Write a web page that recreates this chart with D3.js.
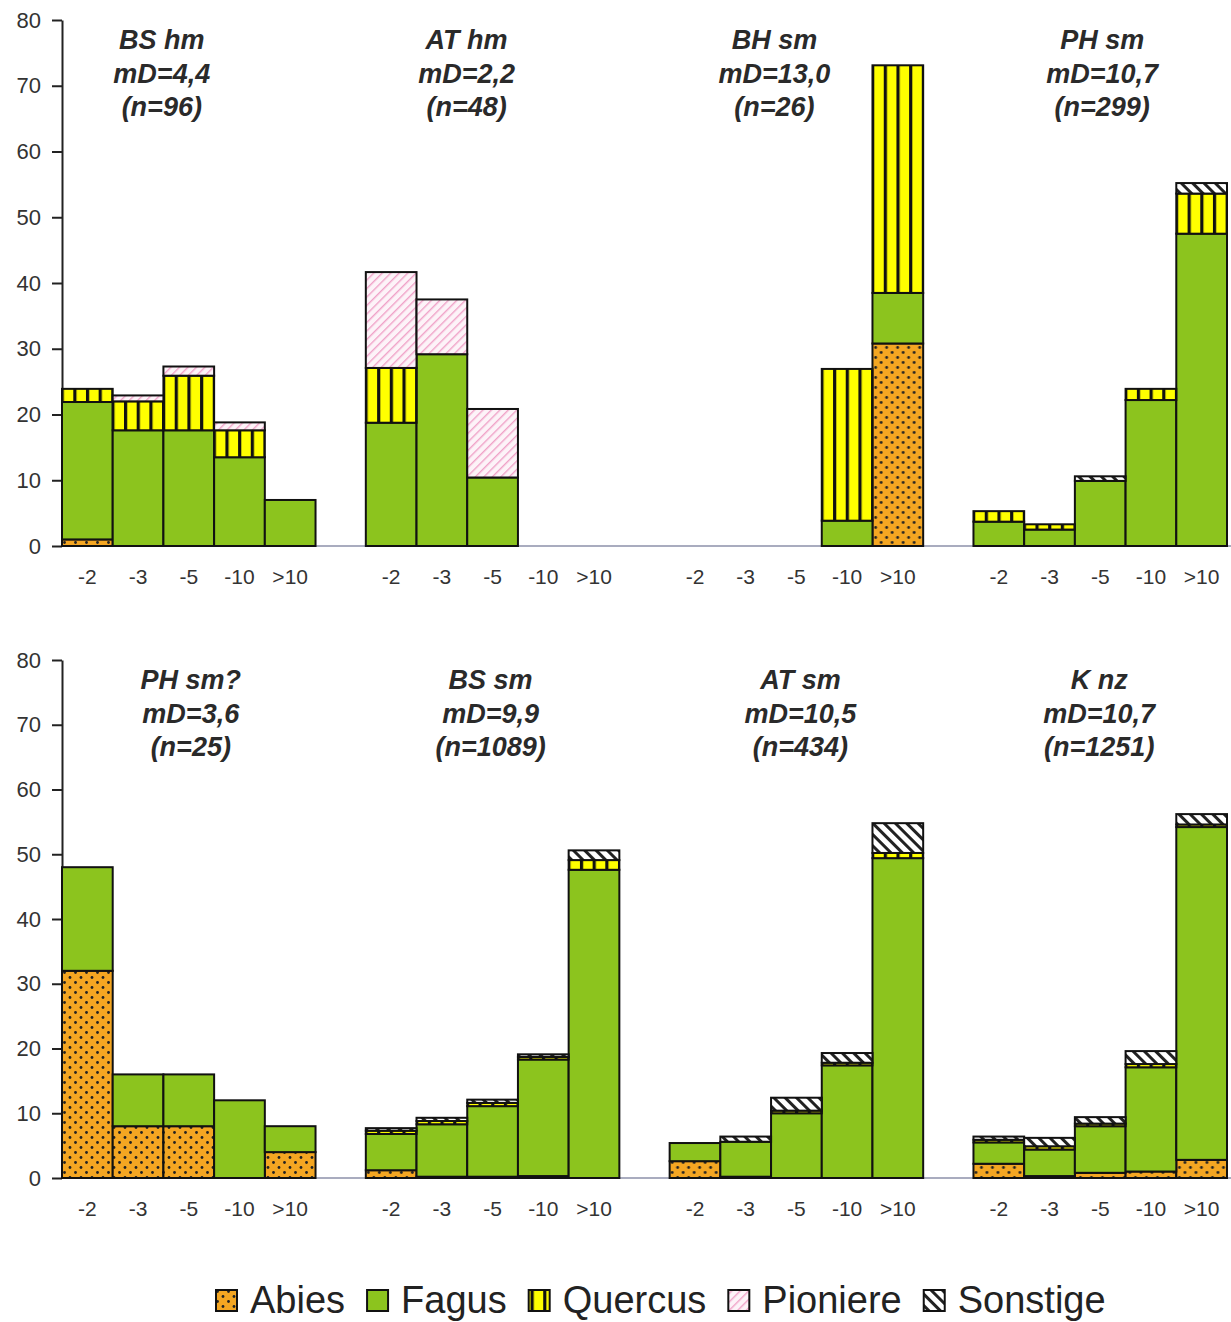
<!DOCTYPE html>
<html>
<head>
<meta charset="utf-8">
<script src="https://cdn.jsdelivr.net/npm/d3@7"></script>
<style>
  body { margin: 0; background: #fff; }
  text { font-family: "Liberation Sans", Arial, sans-serif; }
</style>
</head>
<body>
<div id="chart"></div>
<script>
// diameter classes and species
const classes = ["-2", "-3", "-5", "-10", ">10"];
const species = ["Abies", "Fagus", "Quercus", "Pioniere", "Sonstige"];

// panels: top row then bottom row
const panelNames = ["BS hm", "AT hm", "BH sm", "PH sm", "PH sm?", "BS sm", "AT sm", "K nz"];
const panelMD = ["mD=4,4", "mD=2,2", "mD=13,0", "mD=10,7", "mD=3,6", "mD=9,9", "mD=10,5", "mD=10,7"];
const panelN = ["(n=96)", "(n=48)", "(n=26)", "(n=299)", "(n=25)", "(n=1089)", "(n=434)", "(n=1251)"];

// percent per class, one row per panel
const abies = [
  [1, 0, 0, 0, 0],
  [0, 0, 0, 0, 0],
  [0, 0, 0, 0, 30.8],
  [0, 0, 0, 0, 0],
  [32, 8, 8, 0, 4],
  [1.2, 0.2, 0.2, 0.3, 0],
  [2.6, 0.2, 0, 0, 0],
  [2.2, 0.3, 0.8, 1.0, 2.8]
];
const fagus = [
  [20.9, 17.6, 17.6, 13.5, 7.0],
  [18.75, 29.17, 10.42, 0, 0],
  [0, 0, 0, 3.85, 7.69],
  [3.7, 2.5, 9.9, 22.2, 47.5],
  [16, 8, 8, 12, 4],
  [5.6, 8.1, 10.9, 18.0, 47.6],
  [2.8, 5.4, 10.0, 17.4, 49.4],
  [3.3, 4.1, 7.2, 16.1, 51.4]
];
const quercus = [
  [2, 4.4, 8.3, 4.1, 0],
  [8.33, 0, 0, 0, 0],
  [0, 0, 0, 23.08, 34.62],
  [1.6, 0.8, 0, 1.7, 6.1],
  [0, 0, 0, 0, 0],
  [0.5, 0.5, 0.5, 0.4, 1.5],
  [0, 0, 0.4, 0.4, 0.8],
  [0.4, 0.5, 0.4, 0.5, 0.4]
];
const pioniere = [
  [0, 0.9, 1.4, 1.2, 0],
  [14.58, 8.33, 10.42, 0, 0],
  [0, 0, 0, 0, 0],
  [0, 0, 0, 0, 0],
  [0, 0, 0, 0, 0],
  [0, 0, 0, 0, 0],
  [0, 0, 0, 0, 0],
  [0, 0, 0, 0, 0]
];
const sonstige = [
  [0, 0, 0, 0, 0],
  [0, 0, 0, 0, 0],
  [0, 0, 0, 0, 0],
  [0, 0, 0.7, 0, 1.6],
  [0, 0, 0, 0, 0],
  [0.4, 0.5, 0.5, 0.4, 1.5],
  [0, 0.8, 2.0, 1.5, 4.6],
  [0.5, 1.3, 1.0, 2.0, 1.6]
];
const yTicks = [0, 10, 20, 30, 40, 50, 60, 70, 80];

const seriesBySpecies = [abies, fagus, quercus, pioniere, sonstige];

const width = 1231, height = 1322;
const svg = d3.select("#chart").append("svg")
  .attr("width", width)
  .attr("height", height);

// layout
const axisX = 62;
const rows = [{ base: 546, top: 20 }, { base: 1178, top: 660 }];
const titleDx = [-27, -26, -22, 2, 2, -2, 4, -1];

const xGroup = d3.scaleBand().domain([0, 1, 2, 3]).range([axisX, 1227]).paddingInner(0.1655);
const xClass = d3.scaleBand().domain(classes).range([0, xGroup.bandwidth()]);

// patterns
const defs = svg.append("defs");
const pAbies = defs.append("pattern").attr("id", "p-abies")
  .attr("patternUnits", "userSpaceOnUse").attr("width", 11).attr("height", 10);
pAbies.append("rect").attr("width", 11).attr("height", 10).attr("fill", "#f4a622");
pAbies.append("circle").attr("cx", 2.5).attr("cy", 2.5).attr("r", 1.4).attr("fill", "#222");
pAbies.append("circle").attr("cx", 8).attr("cy", 7.5).attr("r", 1.4).attr("fill", "#222");

const stripeW = xClass.bandwidth() / 4;
const pQuercus = defs.append("pattern").attr("id", "p-quercus")
  .attr("patternUnits", "userSpaceOnUse").attr("x", axisX)
  .attr("width", stripeW).attr("height", 10);
pQuercus.append("rect").attr("width", stripeW).attr("height", 10).attr("fill", "#ffff00");
pQuercus.append("rect").attr("width", 3.2).attr("height", 10).attr("fill", "#111");

const pPion = defs.append("pattern").attr("id", "p-pioniere")
  .attr("patternUnits", "userSpaceOnUse").attr("width", 6).attr("height", 6)
  .attr("patternTransform", "rotate(45)");
pPion.append("rect").attr("width", 6).attr("height", 6).attr("fill", "#fdf3f8");
pPion.append("rect").attr("width", 1.4).attr("height", 6).attr("fill", "#f0a2c8");

const pSons = defs.append("pattern").attr("id", "p-sonstige")
  .attr("patternUnits", "userSpaceOnUse").attr("width", 8).attr("height", 8)
  .attr("patternTransform", "rotate(-45)");
pSons.append("rect").attr("width", 8).attr("height", 8).attr("fill", "#fff");
pSons.append("rect").attr("width", 3).attr("height", 8).attr("fill", "#222");

const fills = {
  Abies: "url(#p-abies)",
  Fagus: "#8cc41e",
  Quercus: "url(#p-quercus)",
  Pioniere: "url(#p-pioniere)",
  Sonstige: "url(#p-sonstige)"
};

// y axis and baseline for each row
const yScales = rows.map(r => d3.scaleLinear().domain([0, 80]).range([r.base, r.top]));

yScales.forEach((y, ri) => {
  svg.append("line")
    .attr("x1", axisX).attr("x2", width)
    .attr("y1", rows[ri].base).attr("y2", rows[ri].base)
    .attr("stroke", "#8d91aa").attr("stroke-width", 1.5);

  const ax = svg.append("g")
    .attr("transform", `translate(${axisX},0)`)
    .call(d3.axisLeft(y).tickValues(yTicks).tickSize(10).tickPadding(11).tickSizeOuter(0));
  ax.select(".domain").attr("stroke", "#222").attr("stroke-width", 2);
  ax.selectAll(".tick line").attr("stroke", "#222").attr("stroke-width", 2);
  ax.selectAll(".tick text")
    .attr("font-size", 22)
    .attr("fill", "#333")
    .attr("font-family", "Liberation Sans, Arial, sans-serif");
});

// panels
panelNames.forEach((name, pi) => {
  const row = Math.floor(pi / 4), col = pi % 4;
  const y = yScales[row];
  const gx = xGroup(col);
  const g = svg.append("g").attr("transform", `translate(${gx},0)`);

  const table = classes.map((c, ci) => {
    const d = { cls: c };
    species.forEach((s, si) => { d[s] = seriesBySpecies[si][pi][ci]; });
    return d;
  });
  const stacked = d3.stack().keys(species)(table);

  stacked.forEach(layer => {
    g.selectAll(null)
      .data(layer.filter(d => d[1] - d[0] > 0))
      .join("rect")
      .attr("x", d => xClass(d.data.cls))
      .attr("width", xClass.bandwidth())
      .attr("y", d => y(d[1]))
      .attr("height", d => y(d[0]) - y(d[1]))
      .attr("fill", fills[layer.key])
      .attr("stroke", "#111")
      .attr("stroke-width", 2);
  });

  // class labels
  const xa = g.append("g")
    .attr("transform", `translate(0,${rows[row].base})`)
    .call(d3.axisBottom(xClass).tickSize(0).tickPadding(23));
  xa.select(".domain").remove();
  xa.selectAll(".tick text")
    .attr("font-size", 21)
    .attr("fill", "#333")
    .attr("font-family", "Liberation Sans, Arial, sans-serif");

  // title block
  const cx = xGroup.bandwidth() / 2 + titleDx[pi];
  const t0 = rows[row].top + 29;
  [name, panelMD[pi], panelN[pi]].forEach((line, li) => {
    g.append("text")
      .attr("x", cx)
      .attr("y", t0 + li * 33.5)
      .attr("text-anchor", "middle")
      .attr("font-size", 27)
      .attr("font-weight", "bold")
      .attr("font-style", "italic")
      .attr("fill", "#2a2a2a")
      .text(line);
  });
});

// legend
const legend = svg.append("g").attr("transform", "translate(215,1289)");
let lx = 0;
species.forEach(s => {
  legend.append("rect")
    .attr("x", lx + 1).attr("y", 1)
    .attr("width", 21).attr("height", 21)
    .attr("fill", fills[s])
    .attr("stroke", "#111").attr("stroke-width", 2);
  const t = legend.append("text")
    .attr("x", lx + 35)
    .attr("y", 24)
    .attr("font-size", 38)
    .attr("fill", "#222")
    .text(s);
  lx += 35 + t.node().getComputedTextLength() + 21;
});
</script>
</body>
</html>
